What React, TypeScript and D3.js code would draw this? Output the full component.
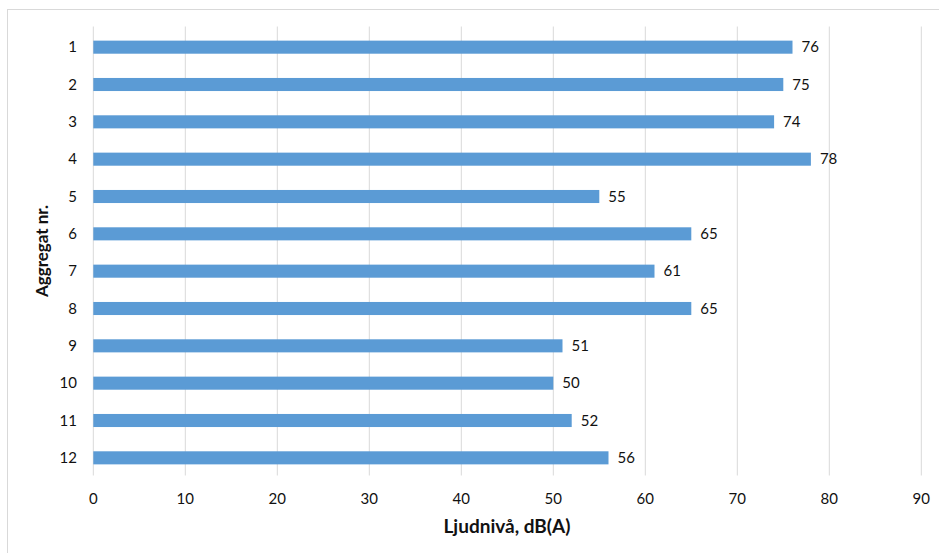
import React from "react";
import * as d3 from "d3";

const categories = ["1", "2", "3", "4", "5", "6", "7", "8", "9", "10", "11", "12"];
const values = [76, 75, 74, 78, 55, 65, 61, 65, 51, 50, 52, 56];
const xTicks = [0, 10, 20, 30, 40, 50, 60, 70, 80, 90];

export default function App() {
  const W = 939, H = 553;
  const left = 93.3, right = 921.3, top = 28.5, bottom = 476.5;
  const x = d3.scaleLinear().domain([0, 90]).range([left, right]);
  const y = d3.scaleBand().domain(categories).range([top, bottom]).paddingInner(0.65).paddingOuter(0.325);
  const font = "Lato, 'Open Sans', sans-serif";
  return (
    <svg width={W} height={H} style={{ position: "absolute", left: 0, top: 0 }}>
      <rect x={0} y={0} width={W} height={H} fill="#fff" />
      <line x1={7.5} x2={7.5} y1={9} y2={H} stroke="#d9d9d9" />
      <line x1={7} x2={W} y1={9.5} y2={9.5} stroke="#d9d9d9" />
      {xTicks.map((t) => (
        <g key={t}>
          <line x1={x(t)} x2={x(t)} y1={top - 2} y2={bottom - 1} stroke="#d9d9d9" strokeWidth={1} />
          <text x={x(t)} y={503.5} textAnchor="middle" fontFamily={font} fontSize={15} fill="#111">{t}</text>
        </g>
      ))}
      {categories.map((c, i) => {
        const by = y(c)!;
        const bh = y.bandwidth();
        return (
          <g key={c}>
            <rect x={x(0)} y={by} width={x(values[i]) - x(0)} height={bh} fill="#5B9BD5" />
            <text x={77} y={by + bh / 2 + 5} textAnchor="end" fontFamily={font} fontSize={15} fill="#111">{c}</text>
            <text x={x(values[i]) + 9} y={by + bh / 2 + 5} fontFamily={font} fontSize={15} fill="#111">{values[i]}</text>
          </g>
        );
      })}
      <text x={507} y={533} textAnchor="middle" fontFamily={font} fontSize={19} fontWeight="bold" fill="#111">Ljudnivå, dB(A)</text>
      <text transform={`translate(48,251) rotate(-90)`} textAnchor="middle" fontFamily={font} fontSize={17} fontWeight="bold" fill="#111">Aggregat nr.</text>
    </svg>
  );
}
